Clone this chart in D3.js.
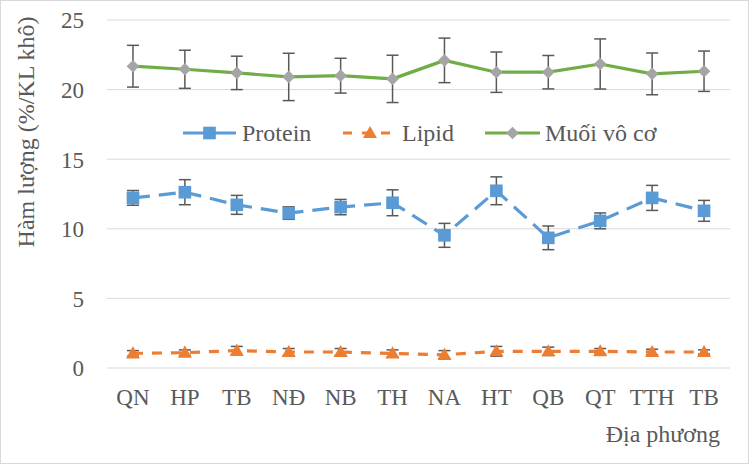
<!DOCTYPE html>
<html>
<head>
<meta charset="utf-8">
<script src="https://cdn.jsdelivr.net/npm/d3@7/dist/d3.min.js"></script>
<style>
  html, body { margin: 0; padding: 0; background: #fff; }
  svg { display: block; }
  svg text { font-family: "Liberation Serif", "Tinos", "DejaVu Serif", serif !important; fill: #595959; }
</style>
</head>
<body>
<svg id="chart" width="751" height="467"></svg>
<script>
const categories = ["QN", "HP", "TB", "NĐ", "NB", "TH", "NA", "HT", "QB", "QT", "TTH", "TB"];
const protein    = [12.22, 12.63, 11.72, 11.13, 11.56, 11.87, 9.53, 12.73, 9.35, 10.57, 12.22, 11.29];
const proteinErr = [0.53, 0.9, 0.68, 0.45, 0.55, 0.93, 0.86, 1.0, 0.85, 0.57, 0.9, 0.75];
const lipid      = [1.05, 1.1, 1.25, 1.15, 1.15, 1.05, 0.95, 1.2, 1.2, 1.2, 1.15, 1.15];
const lipidErr   = [0.2, 0.2, 0.3, 0.25, 0.25, 0.25, 0.3, 0.35, 0.3, 0.2, 0.2, 0.15];
const muoi       = [21.68, 21.46, 21.2, 20.91, 21.0, 20.77, 22.1, 21.25, 21.25, 21.84, 21.13, 21.32];
const muoiErr    = [1.5, 1.37, 1.2, 1.7, 1.25, 1.7, 1.6, 1.45, 1.2, 1.8, 1.5, 1.45];
const yTicks     = [0, 5, 10, 15, 20, 25];
const seriesNames = ["Protein", "Lipid", "Muối vô cơ"];

const FONT = "'Liberation Serif', 'Tinos', 'DejaVu Serif', serif";
const svg = d3.select("#chart");
const W = 751, H = 467;
const plot = { left: 107, right: 730, top: 20, bottom: 368 };

svg.append("rect").attr("x", 0.5).attr("y", 0.5).attr("width", W - 3).attr("height", H - 4)
  .attr("fill", "#fff").attr("stroke", "#d9d9d9").attr("stroke-width", 1);

const x = d3.scaleBand().domain(d3.range(categories.length)).range([plot.left, plot.right]).padding(0);
const cx = i => x(i) + x.bandwidth() / 2;
const y = d3.scaleLinear().domain([0, 25]).range([plot.bottom, plot.top]);

svg.append("g").selectAll("line").data(yTicks).join("line")
  .attr("x1", plot.left).attr("x2", plot.right)
  .attr("y1", d => y(d)).attr("y2", d => y(d))
  .attr("stroke", "#d9d9d9").attr("stroke-width", 1);

const yAxis = d3.axisLeft(y).tickValues(yTicks).tickSize(0).tickPadding(0);
const gy = svg.append("g").attr("transform", `translate(84,0)`).call(yAxis)
  .attr("font-family", FONT).attr("font-size", 23);
gy.select(".domain").remove();
gy.selectAll("text").attr("fill", "#595959").attr("dy", "0.34em");

const xAxis = d3.axisBottom(x).tickFormat(i => categories[i]).tickSize(0).tickPadding(0);
const gx = svg.append("g").attr("transform", `translate(0,389)`).call(xAxis)
  .attr("font-family", FONT).attr("font-size", 23);
gx.select(".domain").remove();
gx.selectAll("text").attr("fill", "#595959").attr("dy", "0.71em");

svg.append("text").attr("transform", "translate(34,132) rotate(-90)")
  .attr("text-anchor", "middle").attr("font-size", 24).attr("font-family", FONT).text("Hàm lượng (%/KL khô)");
svg.append("text").attr("x", 720).attr("y", 442).attr("text-anchor", "end")
  .attr("font-size", 24).attr("font-family", FONT).text("Địa phương");

const series = [
  { name: seriesNames[0], vals: protein, err: proteinErr, color: "#5b9bd5", dash: "17,9", marker: "square", mfill: "#5b9bd5" },
  { name: seriesNames[1], vals: lipid, err: lipidErr, color: "#ed7d31", dash: "10,9", marker: "triangle", mfill: "#ed7d31" },
  { name: seriesNames[2], vals: muoi, err: muoiErr, color: "#70ad47", dash: null, marker: "diamond", mfill: "#a5a5a5" }
];

const symbolFor = m => {
  if (m === "square") return d3.symbol().type(d3.symbolSquare).size(160)();
  if (m === "triangle") return d3.symbol().type(d3.symbolTriangle).size(85)();
  return d3.symbol().type(d3.symbolSquare).size(80)();
};
const rot = m => m === "diamond" ? " rotate(45)" : "";

const line = d3.line().x((d, i) => cx(i)).y(d => y(d));

series.forEach(s => {
  const g = svg.append("g");
  g.append("path").datum(s.vals).attr("d", line)
    .attr("fill", "none").attr("stroke", s.color).attr("stroke-width", 3.2)
    .attr("stroke-linejoin", "round")
    .attr("stroke-dasharray", s.dash);
  const eb = g.append("g").attr("stroke", "#595959").attr("stroke-width", 1.5);
  s.vals.forEach((v, i) => {
    const e = s.err[i];
    eb.append("line").attr("x1", cx(i)).attr("x2", cx(i)).attr("y1", y(v + e)).attr("y2", y(v - e));
    eb.append("line").attr("x1", cx(i) - 6).attr("x2", cx(i) + 6).attr("y1", y(v + e)).attr("y2", y(v + e));
    eb.append("line").attr("x1", cx(i) - 6).attr("x2", cx(i) + 6).attr("y1", y(v - e)).attr("y2", y(v - e));
  });
  g.append("g").selectAll("path").data(s.vals).join("path")
    .attr("d", symbolFor(s.marker))
    .attr("transform", (d, i) => `translate(${cx(i)},${y(d) + (s.marker === "triangle" ? 1 : 0)})${rot(s.marker)}`)
    .attr("fill", s.mfill);
});

const legendItems = [
  { s: series[0], x1: 183, x2: 236, tx: 242 },
  { s: series[1], x1: 343, x2: 397, tx: 402 },
  { s: series[2], x1: 485, x2: 540, tx: 545 }
];
const lg = svg.append("g");
legendItems.forEach(it => {
  const ly = 133;
  lg.append("line").attr("x1", it.x1).attr("x2", it.x2).attr("y1", ly).attr("y2", ly)
    .attr("stroke", it.s.color).attr("stroke-width", 3.2)
    .attr("stroke-dasharray", it.s.marker === "triangle" ? "9,10" : null);
  lg.append("path").attr("d", symbolFor(it.s.marker))
    .attr("transform", `translate(${(it.x1 + it.x2) / 2},${ly + (it.s.marker === "triangle" ? 1 : 0)})${rot(it.s.marker)}`)
    .attr("fill", it.s.mfill);
  lg.append("text").attr("x", it.tx).attr("y", ly + 8).attr("font-size", 24).attr("font-family", FONT).text(it.s.name);
});
</script>
</body>
</html>
